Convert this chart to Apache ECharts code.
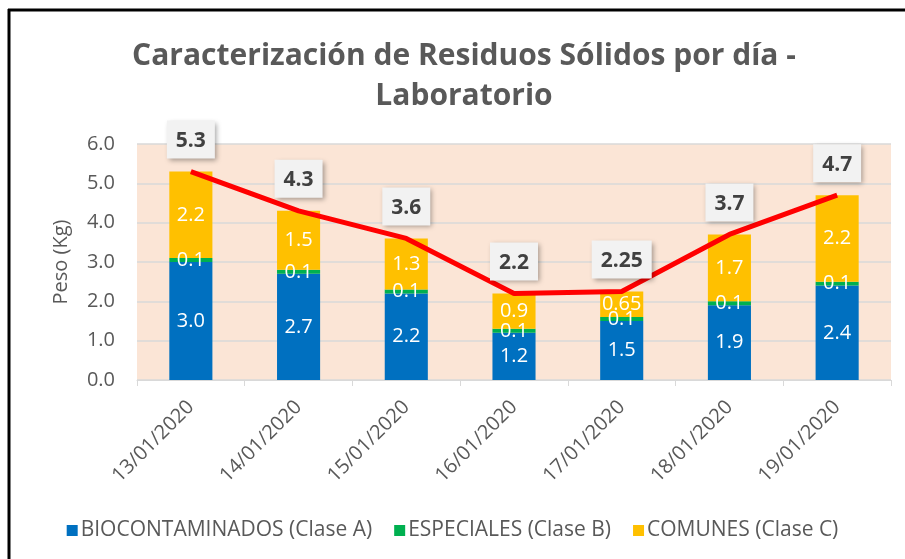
<!DOCTYPE html>
<html><head><meta charset="utf-8">
<script src="https://cdn.jsdelivr.net/npm/echarts@6/dist/echarts.min.js"></script>
<style>html,body{margin:0;padding:0;background:#fff}#c{width:905px;height:559px}</style>
</head><body><div id="c"></div>
<script>
const categories = ['13/01/2020','14/01/2020','15/01/2020','16/01/2020','17/01/2020','18/01/2020','19/01/2020'];
const claseA = [3.0, 2.7, 2.2, 1.2, 1.5, 1.9, 2.4];
const claseB = [0.1, 0.1, 0.1, 0.1, 0.1, 0.1, 0.1];
const claseC = [2.2, 1.5, 1.3, 0.9, 0.65, 1.7, 2.2];
const totals = [5.3, 4.3, 3.6, 2.2, 2.25, 3.7, 4.7];
const yTicks = [0, 1, 2, 3, 4, 5, 6];

const FONT = 'Open Sans';
const fmt = v => { const n = typeof v === 'object' ? v.value : v; return Math.abs(n*10 - Math.round(n*10)) < 1e-9 ? n.toFixed(1) : String(n); };
const barLabel = {show: true, color: '#fff', fontSize: 20, fontFamily: FONT, formatter: p => fmt(p.value)};

const chart = echarts.init(document.getElementById('c'));
chart.setOption({
  animation: false,
  title: {
    text: 'Caracterización de Residuos Sólidos por día -\nLaboratorio',
    left: 459, top: 31, textAlign: 'center',
    textStyle: {fontFamily: FONT, fontWeight: 'bold', fontSize: 30, color: '#595959', lineHeight: 40}
  },
  graphic: [
    {type: 'line', shape: {x1: 8, y1: 10, x2: 905, y2: 10}, style: {stroke: '#000', lineWidth: 3}},
    {type: 'line', shape: {x1: 9, y1: 9, x2: 9, y2: 559}, style: {stroke: '#000', lineWidth: 3}}
  ],
  legend: {
    bottom: 13, left: 'center', itemWidth: 11, itemHeight: 11, itemGap: 22, icon: 'rect',
    data: ['BIOCONTAMINADOS (Clase A)', 'ESPECIALES (Clase B)', 'COMUNES (Clase C)'],
    textStyle: {fontFamily: FONT, fontSize: 21, color: '#595959', padding: [0,0,0,-2]}
  },
  grid: {left: 137, right: 14, top: 144, bottom: 179, show: true, backgroundColor: '#FBE5D6', borderWidth: 0},
  xAxis: {
    type: 'category', data: categories,
    axisLine: {lineStyle: {color: '#D9D9D9', width: 1}},
    axisTick: {show: true, length: 6, lineStyle: {color: '#D9D9D9'}},
    axisLabel: {rotate: 45, fontFamily: FONT, fontSize: 20, color: '#595959', margin: 24}
  },
  yAxis: {
    type: 'value', min: yTicks[0], max: yTicks[yTicks.length-1], interval: 1,
    name: 'Peso (Kg)', nameLocation: 'middle', nameGap: 66,
    nameTextStyle: {fontFamily: FONT, fontSize: 20, color: '#595959'},
    axisLine: {show: false}, axisTick: {show: false},
    splitLine: {lineStyle: {color: '#D9D9D9', width: 1.5}},
    axisLabel: {fontFamily: FONT, fontSize: 20, color: '#595959', margin: 22, formatter: v => v.toFixed(1)}
  },
  series: [
    {name: 'BIOCONTAMINADOS (Clase A)', type: 'bar', stack: 's', data: claseA, barWidth: '40%',
     itemStyle: {color: '#0070C0'}, label: barLabel},
    {name: 'ESPECIALES (Clase B)', type: 'bar', stack: 's', data: claseB,
     itemStyle: {color: '#00B050'}, label: barLabel},
    {name: 'COMUNES (Clase C)', type: 'bar', stack: 's', data: claseC,
     itemStyle: {color: '#FFC000'}, label: barLabel},
    {name: 'Total', type: 'line', data: totals, symbol: 'circle', symbolSize: 2, showSymbol: true, z: 5,
     itemStyle: {color: 'rgba(255,0,0,0)', borderWidth: 0},
     lineStyle: {color: '#FF0000', width: 5},
     label: {show: true, position: 'top', distance: 12, formatter: p => fmt(p.value),
       fontFamily: FONT, fontWeight: 'bold', fontSize: 21, color: '#404040',
       backgroundColor: '#F2F2F2', padding: [10, 9, 7, 9],
       shadowColor: 'rgba(0,0,0,0.35)', shadowBlur: 5, shadowOffsetX: 2, shadowOffsetY: 2}}
  ]
});
</script></body></html>
